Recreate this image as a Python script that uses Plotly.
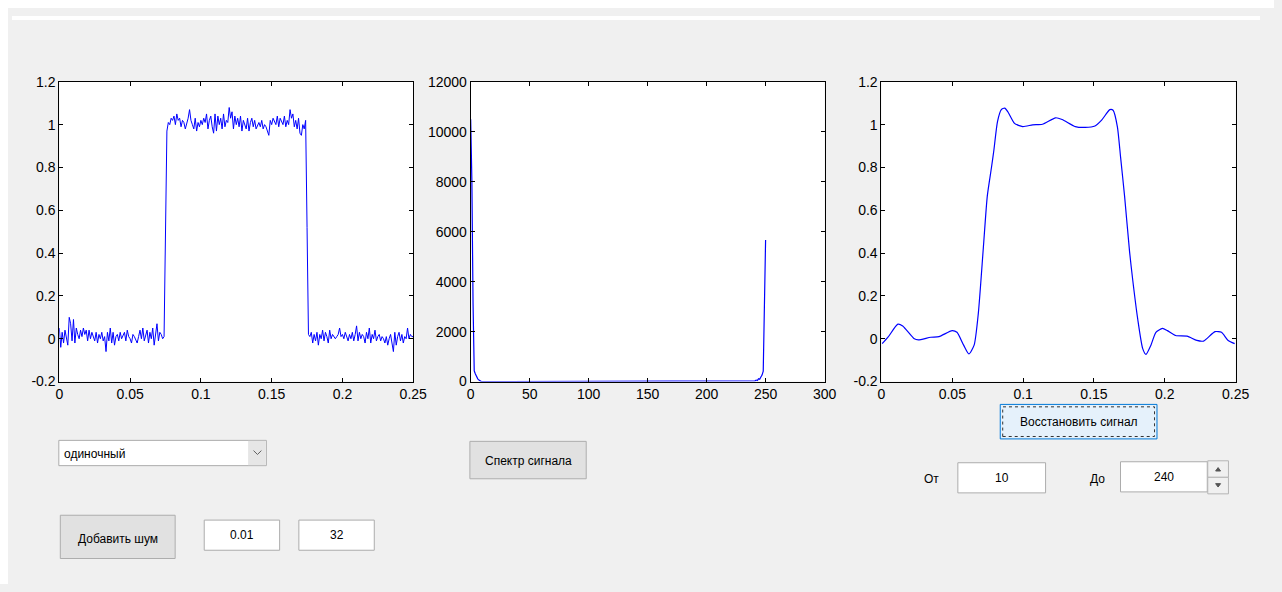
import plotly.graph_objects as go

PAGE_W, PAGE_H = 1282, 592
OFF = 8                      # default browser body margin (kept, so page = 1282x592)
W, H = PAGE_W - 2 * OFF, PAGE_H - 2 * OFF

# ---------------- data ----------------
# noisy rectangular pulse, t = 0 .. 0.25 step 0.001 (251 samples)
t_noisy = [i / 1000 for i in range(251)]
base_left = [
    0.05, -0.04, 0.03, -0.02, 0.04, 0.00, -0.03, 0.10, 0.07, -0.01,
    0.09, -0.02, 0.05, 0.02, 0.00, 0.04, 0.01, 0.05, 0.02, 0.04,
    -0.01, 0.04, 0.00, 0.03, 0.01, -0.01, 0.03, -0.02, 0.02, 0.00,
    0.03, -0.01, 0.01, -0.06, 0.03, -0.01, 0.05, -0.02, 0.03, -0.03,
    0.01, 0.02, -0.01, 0.03, 0.00, 0.02, 0.03, -0.01, 0.04, 0.01,
    0.00, -0.02, 0.02, 0.01, -0.01, -0.02, 0.01, 0.04, 0.00, 0.05,
    -0.01, 0.02, 0.04, -0.02, 0.03, 0.00, 0.05, -0.03, 0.01, 0.07,
    -0.01, 0.03, 0.02, 0.00, 0.01]
rise_edge = [0.48]
top_level = [
    0.97, 1.01, 1.00, 1.03, 1.02, 1.04, 1.00, 1.05, 1.02, 1.03,
    0.99, 1.02, 1.01, 0.98, 1.00, 1.03, 1.07, 1.02, 1.00, 0.98,
    1.03, 0.97, 1.01, 0.99, 1.02, 1.00, 1.03, 1.01, 1.05, 0.98,
    1.02, 1.04, 0.99, 0.96, 1.05, 0.97, 1.04, 1.00, 1.03, 0.98,
    1.05, 0.99, 1.02, 1.01, 1.08, 1.03, 1.06, 0.98, 1.04, 1.00,
    1.03, 0.99, 1.04, 0.97, 1.02, 1.00, 0.98, 1.03, 0.97, 1.01,
    1.03, 0.99, 1.02, 0.98, 1.00, 1.01, 0.99, 1.02, 0.98, 1.00,
    0.99, 0.97, 0.95, 1.02, 1.00, 1.03, 1.01, 1.00, 1.04, 0.99,
    1.03, 1.01, 1.00, 1.04, 0.99, 1.02, 1.00, 1.07, 1.03, 1.05,
    0.99, 1.02, 0.98, 1.03, 0.96, 0.95, 1.00, 0.98, 1.02]
fall_edge = [0.52]
base_right = [
    0.02, 0.01, 0.03, -0.02, 0.02, -0.01, 0.03, -0.03, 0.02, 0.00,
    0.04, -0.01, 0.03, 0.01, -0.02, 0.04, 0.00, 0.02, 0.01, 0.00,
    0.01, 0.02, 0.05, 0.01, 0.02, 0.00, 0.03, 0.01, -0.01, 0.02,
    0.00, 0.03, -0.01, 0.02, 0.06, -0.01, 0.03, 0.00, 0.02, 0.01,
    -0.02, 0.03, 0.00, 0.05, -0.02, 0.02, 0.00, 0.04, -0.01, 0.01,
    0.02, -0.01, 0.01, 0.00, -0.02, 0.01, -0.03, 0.00, 0.02, -0.02,
    -0.06, 0.03, -0.03, 0.01, 0.03, -0.01, 0.02, -0.02, 0.01, 0.00,
    0.05, 0.00, 0.02, 0.01, 0.01]
y_noisy = base_left + rise_edge + top_level + fall_edge + base_right

# spectrum magnitude, index 0 .. 250
spec_head = [10500, 8070, 3140, 430, 300, 180, 110, 60, 20]
spec_tail = [0, 30, 60, 40, 110, 90, 180, 260, 416, 3165, 5670]
spec_zero_count = 251 - len(spec_head) - len(spec_tail)
spec_vals = spec_head + [0] * spec_zero_count + spec_tail
spec_idx = list(range(len(spec_vals)))

# restored signal (read points)
t_rest = [0.0005, 0.0046, 0.0116, 0.015, 0.0232, 0.026, 0.0348, 0.0406, 0.0499,
          0.0533, 0.058, 0.0617, 0.0654, 0.0684, 0.0719, 0.0747, 0.0777, 0.0793,
          0.0819, 0.0846, 0.087, 0.0893, 0.0939, 0.0997, 0.1067, 0.1136, 0.1229,
          0.1275, 0.1368, 0.1438, 0.1507, 0.1554, 0.1612, 0.1635, 0.1665, 0.1688,
          0.1716, 0.1751, 0.1774, 0.1809, 0.1844, 0.1867, 0.1902, 0.1937, 0.1983,
          0.2018, 0.2076, 0.2157, 0.2226, 0.2273, 0.2354, 0.24, 0.2447, 0.2493]
y_rest = [-0.023, 0.007, 0.068, 0.06, 0.0, -0.005, 0.007, 0.01, 0.038,
          0.03, -0.03, -0.071, -0.03, 0.121, 0.424, 0.666, 0.802, 0.878,
          1.014, 1.07, 1.077, 1.059, 1.006, 0.991, 0.999, 1.002, 1.032,
          1.024, 0.991, 0.987, 0.994, 1.021, 1.07, 1.067, 0.991, 0.847,
          0.666, 0.408, 0.272, 0.091, -0.046, -0.073, -0.03, 0.03, 0.048,
          0.038, 0.015, 0.012, -0.008, -0.011, 0.033, 0.03, -0.008, -0.023]

sig_xticks = [0, 0.05, 0.1, 0.15, 0.2, 0.25]
sig_xlabels = ["0", "0.05", "0.1", "0.15", "0.2", "0.25"]
sig_yticks = [-0.2, 0, 0.2, 0.4, 0.6, 0.8, 1, 1.2]
sig_ylabels = ["-0.2", "0", "0.2", "0.4", "0.6", "0.8", "1", "1.2"]
spec_xticks = [0, 50, 100, 150, 200, 250, 300]
spec_xlabels = ["0", "50", "100", "150", "200", "250", "300"]
spec_yticks = [0, 2000, 4000, 6000, 8000, 10000, 12000]
spec_ylabels = ["0", "2000", "4000", "6000", "8000", "10000", "12000"]

signal_types = ["одиночный"]
noise_params = ["0.01", "32"]
band_from, band_to = "10", "240"

# ---------------- helpers (page pixel -> paper) ----------------
def fx(x):
    return (x - OFF) / W

def fy(y):
    return 1 - (y - OFF) / H

FONT = "Liberation Sans, Arial, sans-serif"
BLUE = "#0000ff"
PANEL = "#f0f0f0"

fig = go.Figure()
fig.add_trace(go.Scatter(x=t_noisy, y=y_noisy, mode="lines",
                         line=dict(color=BLUE, width=1), xaxis="x", yaxis="y",
                         hoverinfo="skip"))
fig.add_trace(go.Scatter(x=spec_idx, y=spec_vals, mode="lines",
                         line=dict(color=BLUE, width=1.2), xaxis="x2", yaxis="y2",
                         hoverinfo="skip"))
fig.add_trace(go.Scatter(x=t_rest, y=y_rest, mode="lines",
                         line=dict(color=BLUE, width=1.2, shape="spline", smoothing=0.6),
                         xaxis="x3", yaxis="y3", hoverinfo="skip"))

ydom = [fy(384), fy(75.7)]
doms = [[fx(56), fx(415)], [fx(473.3), fx(832.3)], [fx(890), fx(1249.3)]]

def ax_common():
    return dict(showline=True, linecolor="black", linewidth=1, mirror="ticks",
                ticks="inside", ticklen=4, tickcolor="black", showgrid=False,
                zeroline=False, tickfont=dict(family=FONT, size=14, color="black"),
                fixedrange=True)

layout = dict(width=W, height=H, margin=dict(l=0, r=0, t=0, b=0),
              paper_bgcolor=PANEL, plot_bgcolor="white", showlegend=False)

for i, dom in enumerate(doms):
    xs = "" if i == 0 else str(i + 1)
    xa = ax_common()
    ya = ax_common()
    xa.update(domain=dom, anchor="y" + xs)
    ya.update(domain=ydom, anchor="x" + xs)
    if i == 1:
        xa.update(range=[0, 300], tickvals=spec_xticks, ticktext=spec_xlabels)
        ya.update(range=[0, 12000], tickvals=spec_yticks, ticktext=spec_ylabels)
    else:
        xa.update(range=[0, 0.25], tickvals=sig_xticks, ticktext=sig_xlabels)
        ya.update(range=[-0.2, 1.2], tickvals=sig_yticks, ticktext=sig_ylabels)
    layout["xaxis" + xs] = xa
    layout["yaxis" + xs] = ya

shapes = []
annotations = []

def rect(x0, y0, x1, y1, fill, line="#adadad", lw=1, dash=None, layer="above"):
    ln = dict(color=line, width=lw)
    if dash:
        ln["dash"] = dash
    shapes.append(dict(type="rect", xref="paper", yref="paper",
                       x0=fx(x0), x1=fx(x1), y0=fy(y1), y1=fy(y0),
                       fillcolor=fill, line=ln, layer=layer))

def path(pts, color, fill=None, lw=1):
    d = "M " + " L ".join(f"{fx(x)},{fy(y)}" for x, y in pts)
    if fill:
        d += " Z"
    shapes.append(dict(type="path", xref="paper", yref="paper", path=d,
                       line=dict(color=color, width=lw),
                       fillcolor=fill if fill else "rgba(0,0,0,0)"))

def text(x, y, s, anchor="center", size=12):
    annotations.append(dict(x=fx(x), y=fy(y), xref="paper", yref="paper", text=s,
                            showarrow=False, xanchor=anchor, yanchor="middle",
                            font=dict(family=FONT, size=size, color="black")))

# white strip above the gray panel (page y 8..12)
rect(OFF, OFF, PAGE_W - OFF, 12, "white", line="white", lw=0)

# dropdown
rect(55.5, 444.5, 266, 470.5, "white", line="#acacac")
rect(247.5, 445, 265.5, 470, "#e6e6e6", line="#e6e6e6", lw=0)
path([(253, 455), (257, 459), (261, 455)], "#606060")
text(59, 458, signal_types[0], anchor="left")

# spectrum button
rect(472.5, 445.5, 590.5, 484, "#e1e1e1", line="#adadad")
text(531.5, 465.5, "Спектр сигнала")

# noise button + boxes
rect(57, 521.5, 173.5, 566, "#e1e1e1", line="#adadad")
text(115.3, 546, "Добавить шум")
rect(203, 526.5, 279.5, 557.5, "white", line="#acacac")
text(241.3, 542, noise_params[0])
rect(299, 526.5, 375.5, 557.5, "white", line="#acacac")
text(337.3, 542, noise_params[1])

# restore button (focused)
rect(1010.5, 407.5, 1169.5, 443, "#e5f1fb", line="#0078d7")
rect(1013, 410, 1167, 440.5, "rgba(0,0,0,0)", line="#333333", lw=1, dash="dot")
text(1090, 426, "Восстановить сигнал")

# from / to
text(941, 484, "От")
rect(967.5, 467.5, 1056.5, 498.5, "white", line="#acacac")
text(1012, 483, band_from)
text(1109, 484, "До")
rect(1132.5, 466.5, 1220.5, 497.5, "white", line="#acacac")
text(1176.5, 482, band_to)
rect(1221, 465.5, 1242, 482.5, PANEL, line="#b5b5b5")
rect(1221, 482.5, 1242, 499.5, PANEL, line="#b5b5b5")
path([(1229, 476), (1231.5, 472.5), (1234, 476)], "#555555", fill="#555555")
path([(1229, 489), (1231.5, 492.5), (1234, 489)], "#555555", fill="#555555")

layout["shapes"] = shapes
layout["annotations"] = annotations
fig.update_layout(**layout)

# cosmetic only (does not change page size): gray page, white strips top/left
post_js = ("document.documentElement.style.background='#f0f0f0';"
           "document.body.style.boxShadow='0 -8px 0 0 #ffffff, -8px 0 0 0 #ffffff,"
           " -8px -8px 0 0 #ffffff';")
fig.write_html("out.html", post_script=post_js,
               config={"displayModeBar": False})
